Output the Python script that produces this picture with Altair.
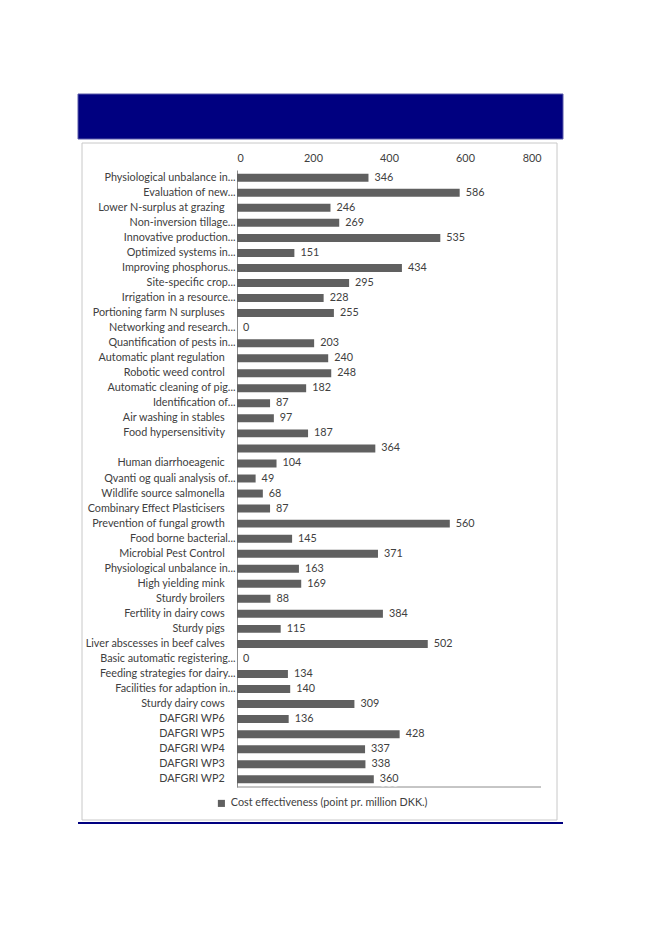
import json
import altair as alt
import pandas as pd

SP = " \u2800"
labels = [
    "Physiological unbalance in...", "Evaluation of new...", "Lower N-surplus at grazing" + SP,
    "Non-inversion tillage...", "Innovative production...", "Optimized systems in...",
    "Improving phosphorus...", "Site-specific crop...", "Irrigation in a resource...",
    "Portioning farm N surpluses" + SP, "Networking and research...", "Quantification of pests in...",
    "Automatic plant regulation" + SP, "Robotic weed control" + SP, "Automatic cleaning of pig...",
    "Identification of...", "Air washing in stables" + SP, "Food hypersensitivity" + SP,
    "", "Human diarrhoeagenic" + SP, "Qvanti og quali analysis of...",
    "Wildlife source salmonella" + SP, "Combinary Effect Plasticisers" + SP, "Prevention of fungal growth" + SP,
    "Food borne bacterial...", "Microbial Pest Control" + SP, "Physiological unbalance in...",
    "High yielding mink" + SP, "Sturdy broilers" + SP, "Fertility in dairy cows" + SP,
    "Sturdy pigs" + SP, "Liver abscesses in beef calves" + SP, "Basic automatic registering...",
    "Feeding strategies for dairy...", "Facilities for adaption in...", "Sturdy dairy cows" + SP,
    "DAFGRI WP6" + SP, "DAFGRI WP5" + SP, "DAFGRI WP4" + SP, "DAFGRI WP3" + SP, "DAFGRI WP2" + SP,
]
values = [346, 586, 246, 269, 535, 151, 434, 295, 228, 255, 0, 203, 240, 248, 182, 87, 97, 187,
          364, 104, 49, 68, 87, 560, 145, 371, 163, 169, 88, 384, 115, 502, 0, 134, 140, 309,
          136, 428, 337, 338, 360]
series_name = "Cost effectiveness (point pr. million DKK.)"
x_ticks = [0, 200, 400, 600, 800]

df = pd.DataFrame({"idx": list(range(len(labels))), "value": values, "series": series_name})
one = pd.DataFrame({"a": [0]})

FONT = "Lato"
FS = 10.8
TXT = "#404040"
label_expr = "[" + ",".join(json.dumps(l) for l in labels) + "][datum.value]"

y_enc = alt.Y("idx:O", sort=None, title=None,
              scale=alt.Scale(paddingInner=0.47, paddingOuter=0.25),
              axis=alt.Axis(labelExpr=label_expr, ticks=False, domain=True, domainColor="#8c8c8c",
                            labelPadding=2, labelFontSize=FS, labelFont=FONT, labelColor=TXT,
                            labelFontWeight="normal", labelLimit=0))
x_enc = alt.X("value:Q", title=None,
              scale=alt.Scale(domain=[0, 800], nice=False),
              axis=alt.Axis(orient="top", values=x_ticks, ticks=False, domain=False, grid=False,
                            labelPadding=7, labelFontSize=FS, labelFont=FONT, labelColor=TXT))

band = alt.Chart(one).mark_rect(fill="#000080", stroke="#5a5aa8", strokeWidth=1).encode(
    x=alt.value(-159), x2=alt.value(326), y=alt.value(-76), y2=alt.value(-31))
frame = alt.Chart(one).mark_rect(fill=None, stroke="#c8c8c8", strokeWidth=1).encode(
    x=alt.value(-155), x2=alt.value(320), y=alt.value(-27), y2=alt.value(650))
navy_line = alt.Chart(one).mark_rule(color="#000080", strokeWidth=2).encode(
    x=alt.value(-159), x2=alt.value(326), y=alt.value(653))
bottom_rule = alt.Chart(one).mark_rule(color="#8c8c8c", strokeWidth=1).encode(
    x=alt.value(0), x2=alt.value(304), y=alt.value(617))

bars = alt.Chart(df).mark_bar().encode(
    y=y_enc, x=x_enc,
    color=alt.Color("series:N", scale=alt.Scale(range=["#606060"]),
                    legend=alt.Legend(title=None, orient="none", legendX=-21, legendY=628,
                                      symbolType="square", symbolSize=50, symbolStrokeWidth=0,
                                      labelFont=FONT, labelFontSize=FS, labelColor=TXT,
                                      labelLimit=0)))
halo = alt.Chart(df).mark_text(align="left", baseline="middle", dx=6, font=FONT,
                               fontSize=FS, color="white", stroke="white", strokeWidth=9,
                               strokeJoin="round", strokeCap="round").encode(
    y=alt.Y("idx:O", sort=None), x="value:Q", text="value:Q")
texts = alt.Chart(df).mark_text(align="left", baseline="middle", dx=6, font=FONT,
                                fontSize=FS, color=TXT).encode(
    y=alt.Y("idx:O", sort=None), x="value:Q", text="value:Q")

chart = alt.layer(frame, band, navy_line, bottom_rule, halo, bars, texts).properties(
    width=304, height=617,
    background="white",
    autosize=alt.AutoSizeParams(type="none"),
    padding={"left": 229, "top": 162, "right": 112, "bottom": 130},
).configure_view(strokeWidth=0, stroke="transparent")

chart.save("out.html", embed_options={"renderer": "svg", "actions": False})
